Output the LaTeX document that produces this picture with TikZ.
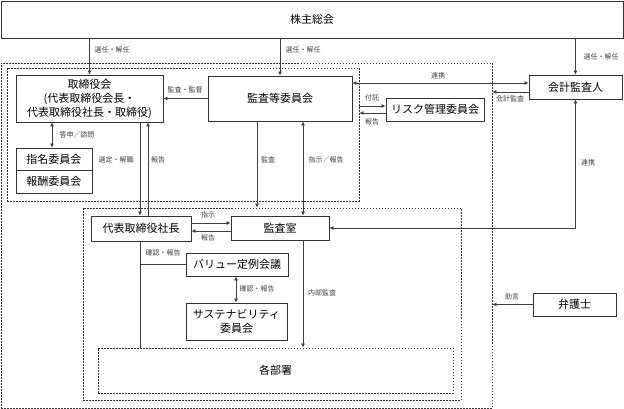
\documentclass[tikz,border=0pt]{standalone}
\usepackage{fontspec}
\setmainfont{Noto Sans CJK JP}
\usetikzlibrary{arrows.meta}
\begin{document}
\begin{tikzpicture}[x=1pt,y=-1pt,
  box/.style={draw=black!80, line width=0.8pt, inner sep=0pt, align=center, font=\fontsize{11}{14}\selectfont},
  grp/.style={draw=black!80, line width=0.8pt, dash pattern=on 1.5pt off 1.5pt, inner sep=0pt},
  conn/.style={draw=black!75, line width=0.7pt},
  arr/.style={conn, -{Latex[length=4pt,width=4pt]}},
  darr/.style={conn, {Latex[length=4pt,width=4pt]}-{Latex[length=4pt,width=4pt]}},
  lbl/.style={font=\fontsize{7}{8}\selectfont, text=black!75, inner sep=0pt}
]
\useasboundingbox (0,0) rectangle (624,409);

% groups
\node[grp, minimum width=491pt, minimum height=345pt] (outer) at (246.5,235.5) {};
\node[grp, minimum width=352pt, minimum height=133pt] (grpA) at (183,134.5) {};
\node[grp, minimum width=378pt, minimum height=192pt] (grpB) at (272,304) {};

% boxes
\node[box, minimum width=622pt, minimum height=37pt] (sh) at (312,19.5) {株主総会};
\node[box, minimum width=147pt, minimum height=47pt] (tb) at (89.5,98.5) {取締役会\\(代表取締役会長・\\代表取締役社長・取締役)};
\node[box, minimum width=76pt, minimum height=22pt] (nom) at (54,159) {指名委員会};
\node[box, minimum width=76pt, minimum height=23pt] (rem) at (54,181.5) {報酬委員会};
\node[box, minimum width=144pt, minimum height=45pt] (kt) at (280,98.5) {監査等委員会};
\node[box, minimum width=98pt, minimum height=23pt] (risk) at (435,109.5) {リスク管理委員会};
\node[box, minimum width=93pt, minimum height=24pt] (ka) at (575.5,87) {会計監査人};
\node[box, minimum width=100pt, minimum height=25pt] (pres) at (141,228.5) {代表取締役社長};
\node[box, minimum width=98pt, minimum height=24pt] (ks) at (280,228) {監査室};
\node[box, minimum width=102pt, minimum height=23pt] (val) at (237,264.5) {バリュー定例会議};
\node[box, minimum width=101pt, minimum height=37pt] (sus) at (236.5,321.5) {サステナビリティ\\委員会};
\node[grp, box, dash pattern=on 1.5pt off 1.5pt, minimum width=355pt, minimum height=45pt] (bu) at (275.5,370.5) {各部署};
\node[box, minimum width=83pt, minimum height=23pt] (law) at (574.5,304.5) {弁護士};

% helper coordinates
\coordinate (x52) at (52,0);
\coordinate (x140) at (140,0);
\coordinate (x148) at (148,0);
\coordinate (x236) at (236,0);
\coordinate (x257) at (257,0);
\coordinate (x303) at (303,0);
\coordinate (y83) at (0,83);
\coordinate (y92) at (0,92);
\coordinate (y106) at (0,106);
\coordinate (y113) at (0,113);
\coordinate (y223) at (0,223);
\coordinate (y231) at (0,231);

% connectors
\draw[arr] (sh.south -| tb.north) -- (tb.north);
\draw[arr] (sh.south -| kt.north) -- (kt.north);
\draw[arr] (sh.south -| ka.north) -- (ka.north);
\draw[arr] (kt.west) -- (tb.east);
\draw[darr] (tb.south -| x52) -- (nom.north -| x52);
\draw[arr] (tb.south -| x140) -- (pres.north -| x140);
\draw[arr] (pres.north -| x148) -- (tb.south -| x148);
\draw[arr] (kt.south -| x257) -- (grpB.north -| x257);
\draw[darr] (kt.south -| x303) -- (ks.north -| x303);
\draw[darr] (kt.east |- y83) -- (ka.west |- y83);
\draw[arr] (ka.west |- y92) -- (outer.east |- y92);
\draw[arr] (grpA.east |- y106) -- (risk.west |- y106);
\draw[arr] (risk.west |- y113) -- (grpA.east |- y113);
\draw[darr] (ka.south) |- (ks.east);
\draw[arr] (law.west) -- (outer.east |- law.west);
\draw[arr] (pres.east |- y223) -- (ks.west |- y223);
\draw[arr] (ks.west |- y231) -- (pres.east |- y231);
\draw[conn] (pres.south -| x140) -- (bu.north -| x140);
\draw[conn] (val.west -| x140) -- (val.west);
\draw[darr] (val.south -| x236) -- (sus.north -| x236);
\draw[arr] (ks.south -| x303) -- (bu.north -| x303);

% labels
\node[lbl] (l1) at (112,50) {選任・解任};
\node[lbl] (l2) at (303,50) {選任・解任};
\node[lbl] (l3) at (601,57) {選任・解任};
\node[lbl] (l4) at (185,90) {監査・監督};
\node[lbl] (l5) at (77,135) {答申／諮問};
\node[lbl] (l6) at (116,160) {選定・解職};
\node[lbl] (l7) at (158,160) {報告};
\node[lbl] (l8) at (268,160) {監査};
\node[lbl] (l9) at (326,160) {指示／報告};
\node[lbl] (l10) at (438,76) {連携};
\node[lbl] (l11) at (510,99) {会計監査};
\node[lbl] (l12) at (372,98) {付託};
\node[lbl] (l13) at (372,122) {報告};
\node[lbl] (l14) at (588,163) {連携};
\node[lbl] (l15) at (512,297) {助言};
\node[lbl] (l16) at (208,215) {指示};
\node[lbl] (l17) at (208,238) {報告};
\node[lbl] (l18) at (163,253) {確認・報告};
\node[lbl] (l19) at (257,289) {確認・報告};
\node[lbl] (l20) at (322,293) {内部監査};
\end{tikzpicture}
\end{document}
